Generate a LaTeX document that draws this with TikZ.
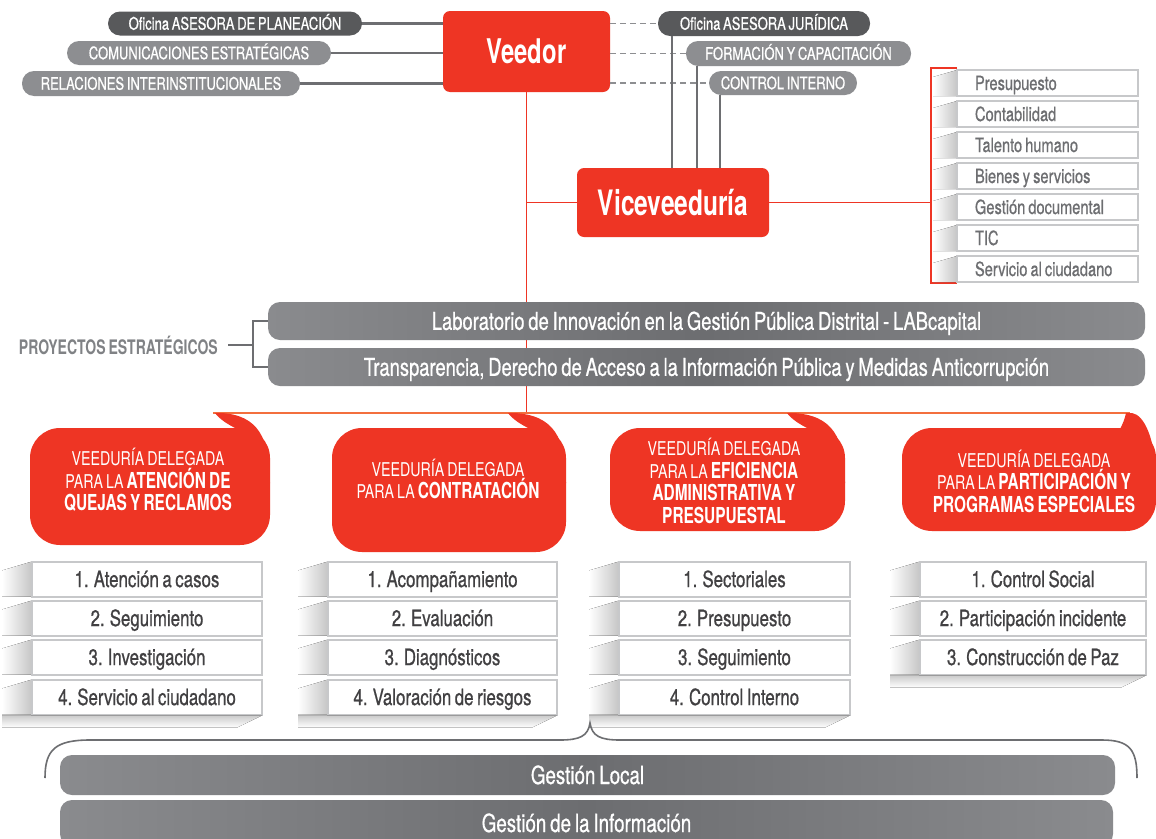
\documentclass[tikz,border=0pt]{standalone}
\usepackage{fontspec}
\setmainfont{TeX Gyre Heros}[FakeStretch=0.75, FakeBold=0.7, WordSpace=0.75]
\newfontfamily\thinf{TeX Gyre Heros}[FakeStretch=0.75, WordSpace=0.75]
\newfontfamily\bdf{TeX Gyre Heros}[FakeStretch=0.7, WordSpace=0.75]
\newcommand\myfs[1]{\fontsize{#1}{#1}\selectfont}
\newcommand\bb[1]{{\bdf\bfseries\fontsize{22}{22.5}\selectfont #1}}
\definecolor{vred}{HTML}{EE3524}
\definecolor{dkg}{HTML}{58595B}
\definecolor{lgg}{HTML}{8D8E91}
\definecolor{txg}{HTML}{6D6E71}
\definecolor{ltxt}{HTML}{414042}
\definecolor{boxg}{HTML}{C7C8CA}
\definecolor{bgA}{HTML}{8A8B8E}
\definecolor{bgB}{HTML}{6C6D70}
\definecolor{orln}{HTML}{F36F3E}
\definecolor{proyg}{HTML}{808285}
% list item with left 3D wedge: name, x, y, text, width
\newcommand\litem[5]{%
  \fill[left color=white, right color=gray!45]
    ({#2-#5/2-30},{#3-8.5}) -- ({#2-#5/2},{#3-17.5}) -- ({#2-#5/2},{#3+17.5}) -- ({#2-#5/2-30},{#3+17.5}) -- cycle;
  \node[lbox, minimum width=#5] (#1) at (#2,#3) {#4};}
% bottom shadow under a column: xleft, xright, ybottom
\newcommand\bshadow[3]{%
  \fill[top color=gray!40, bottom color=white]
    ({#1-30},#3) -- (#2,#3) -- ({#2-25},{#3+12}) -- ({#1-30},{#3+12}) -- cycle;}
% right list item: name, y, text
\newcommand\ritem[3]{%
  \fill[left color=white, right color=gray!45]
    (933,{#2-6}) -- (957,{#2-13}) -- (957,{#2+13}) -- (933,{#2+13}) -- cycle;
  \node[rbox] (#1) at (1047.5,#2) {\spaceskip=0pt\xspaceskip=0pt\relax\mbox{#3}};}
% speech bubble: x0, y0, x1, y1, tail tip x, inner x
\newcommand\bubble[6]{%
  \fill[vred, rounded corners=30] (#1,#2) rectangle (#3,#4);
  \fill[vred] (#5,413) -- ({#5+6},413) .. controls ({#3-12},415) and (#3,{#2+10}) .. (#3,{#2+55})
     -- ({#3-30},{#2+40}) -- (#6,{#2+1}) .. controls ({#6-0.45*(#6-#5)},{#2-4}) and ({#5+0.2*(#6-#5)},{#2-9}) .. (#5,413) -- cycle;}
\begin{document}
\begin{tikzpicture}[x=1pt,y=-1pt,
  pillD/.style={fill=dkg, text=white, rounded corners=12, inner sep=0, text height=12.4, text depth=0, font=\myfs{17.3}},
  pillL/.style={pillD, fill=lgg},
  redbox/.style={fill=vred, text=white, rounded corners=7, inner sep=0, text height=24.5, text depth=0, font=\bdf\bfseries\myfs{34}},
  bigpill/.style={left color=bgA, right color=bgA, middle color=bgB, text=white, rounded corners=12, inner sep=0, minimum width=877, minimum height=38, text height=17.6, text depth=0, font=\myfs{24.5}},
  lbox/.style={draw=boxg, line width=2, fill=white, minimum height=35, inner sep=0, text height=16.2, text depth=0, text=ltxt, font=\myfs{22.5}},
  rbox/.style={draw=boxg, line width=1.5, fill=white, text width=145, inner xsep=18, inner ysep=0, minimum height=26, text height=14, text depth=0, align=left, text=txg, font=\myfs{19.5}},
  bubtxt/.style={text=white, align=center, font=\thinf\fontsize{19}{22.5}\selectfont, inner sep=0},
  gline/.style={draw=txg, line width=2.5},
  dline/.style={draw=lgg, line width=1.3, dash pattern=on 6pt off 4pt},
  rline/.style={draw=vred, line width=1.3},
  brace/.style={draw=txg, line width=1.6}]
\useasboundingbox (0,0) rectangle (1156,838);
\clip (0,0) rectangle (1156,838);
\fill[white] (0,0) rectangle (1156,838);

% ---------- coordinates ----------
\coordinate (hl) at (213,413);
\coordinate (hr) at (1130,413);
\coordinate (brT) at (957,68);
\coordinate (brB) at (957,283);
\coordinate (brM) at (931,202.5);
\coordinate (bx) at (253,345);
\coordinate (btip) at (590,723);

% ---------- top boxes ----------
\node[redbox, minimum width=167, minimum height=81] (veedor) at (526.5,51.5) {Veedor};
\node[redbox, minimum width=192, minimum height=69, font=\bdf\bfseries\myfs{35}, text height=25.2] (vice) at (673,202.5) {Viceveeduría};

\node[pillD, minimum width=254, minimum height=24] (p1) at (235,23.5) {Oficina ASESORA DE PLANEACIÓN};
\node[pillL, minimum width=264, minimum height=24] (p2) at (199,53) {COMUNICACIONES ESTRATÉGICAS};
\node[pillL, minimum width=278, minimum height=25] (p3) at (161,83.5) {RELACIONES INTERINSTITUCIONALES};
\node[pillD, minimum width=212, minimum height=25] (j1) at (764,23.5) {Oficina ASESORA JURÍDICA};
\node[pillL, minimum width=225, minimum height=25] (j2) at (798.5,53.5) {FORMACIÓN Y CAPACITACIÓN};
\node[pillL, minimum width=148, minimum height=24] (j3) at (783,83) {CONTROL INTERNO};

% connectors
\draw[gline] (p1.east) -- (p1.east -| veedor.west);
\draw[gline] (p2.east) -- (p2.east -| veedor.west);
\draw[gline] (p3.east) -- (p3.east -| veedor.west);
\draw[dline] (j1.west -| veedor.east) -- (j1.west);
\draw[dline] (j2.west -| veedor.east) -- (j2.west);
\draw[dline] (j3.west -| veedor.east) -- (j3.west);
\draw[gline] ([xshift=14pt]j1.south west) -- ([xshift=14pt]j1.south west |- vice.north);
\draw[gline] ([xshift=11pt]j2.south west) -- ([xshift=11pt]j2.south west |- vice.north);
\draw[gline] ([xshift=11pt]j3.south west) -- ([xshift=11pt]j3.south west |- vice.north);

% red lines
\draw[rline] (veedor.south) -- (veedor.south |- hl);
\draw[rline] (veedor.south |- vice.west) -- (vice.west);
\draw[rline] (vice.east) -- (brM);
\draw[rline] (brT) -- (brT -| brM) -- (brB -| brM) -- (brB);
\draw[draw=orln, line width=2] (hl) -- (hr);

% ---------- right list ----------
\ritem{r1}{83}{Presupuesto}
\ritem{r2}{114}{Contabilidad}
\ritem{r3}{145}{Talento humano}
\ritem{r4}{176}{Bienes y servicios}
\ritem{r5}{207}{Gestión documental}
\ritem{r6}{238}{TIC}
\ritem{r7}{269}{Servicio al ciudadano}

% ---------- proyectos ----------
\node[bigpill] (lab) at (706.5,321) {Laboratorio de Innovación en la Gestión Pública Distrital - LABcapital};
\node[bigpill] (tra) at (706.5,367) {Transparencia, Derecho de Acceso a la Información Pública y Medidas Anticorrupción};
\node[anchor=east, inner sep=0, text=proyg, font=\bdf\bfseries\myfs{20}] (proy) at (218,345) {PROYECTOS ESTRATÉGICOS};
\draw[gline] ([xshift=10pt]proy.east) -- (bx);
\draw[gline] (lab.west) -- (lab.west -| bx) -- (tra.west -| bx) -- (tra.west);

% ---------- bubbles ----------
\bubble{30}{428}{270}{545}{215}{237}
\bubble{332}{428}{566}{552}{508}{530}
\bubble{610}{428}{845}{531}{787}{809}
\bubble{902}{428}{1156}{531}{1126}{1120}
\node[bubtxt] (b1) at (148,480) {VEEDURÍA DELEGADA\\PARA LA \bb{ATENCIÓN DE}\\\bb{QUEJAS Y RECLAMOS}};
\node[bubtxt] (b2) at (448,479) {VEEDURÍA DELEGADA\\PARA LA \bb{CONTRATACIÓN}};
\node[bubtxt] (b3) at (724,481) {VEEDURÍA DELEGADA\\PARA LA \bb{EFICIENCIA}\\\bb{ADMINISTRATIVA Y}\\\bb{PRESUPUESTAL}};
\node[bubtxt] (b4) at (1034,481) {VEEDURÍA DELEGADA\\PARA LA \bb{PARTICIPACIÓN Y}\\\bb{PROGRAMAS ESPECIALES}};

% ---------- lists ----------
\litem{a1}{147}{579}{1. Atención a casos}{230}
\litem{a2}{147}{618}{2. Seguimiento}{230}
\litem{a3}{147}{657}{3. Investigación}{230}
\litem{a4}{147}{697}{4. Servicio al ciudadano}{230}
\bshadow{32}{262}{715.5}
\litem{c1}{442.5}{579}{1. Acompañamiento}{229}
\litem{c2}{442.5}{618}{2. Evaluación}{229}
\litem{c3}{442.5}{657}{3. Diagnósticos}{229}
\litem{c4}{442.5}{697}{4. Valoración de riesgos}{229}
\bshadow{328}{557}{715.5}
\litem{e1}{734.5}{579}{1. Sectoriales}{231}
\litem{e2}{734.5}{618}{2. Presupuesto}{231}
\litem{e3}{734.5}{657}{3. Seguimiento}{231}
\litem{e4}{734.5}{697}{4. Control Interno}{231}
\bshadow{619}{850}{715.5}
\litem{q1}{1033}{579}{1. Control Social}{226}
\litem{q2}{1033}{618}{2. Participación incidente}{226}
\litem{q3}{1033}{657}{3. Construcción de Paz}{226}
\bshadow{920}{1146}{675.5}

% ---------- brace and bottom bars ----------
\draw[brace] (45,778) .. controls (45,750) and (55,740) .. (90,740) -- (560,740)
  .. controls (580,740) and (588,736) .. (btip) .. controls (592,736) and (600,740) .. (620,740)
  -- (1102,740) .. controls (1130,740) and (1137,750) .. (1137,778);
\node[bigpill, minimum width=1055, minimum height=40, font=\myfs{25}, text height=18] (gl) at (587.5,775) {Gestión Local};
\node[bigpill, minimum width=1053, minimum height=46, font=\myfs{25}, text height=18] (gi) at (586.5,823) {Gestión de la Información};
\end{tikzpicture}
\end{document}
